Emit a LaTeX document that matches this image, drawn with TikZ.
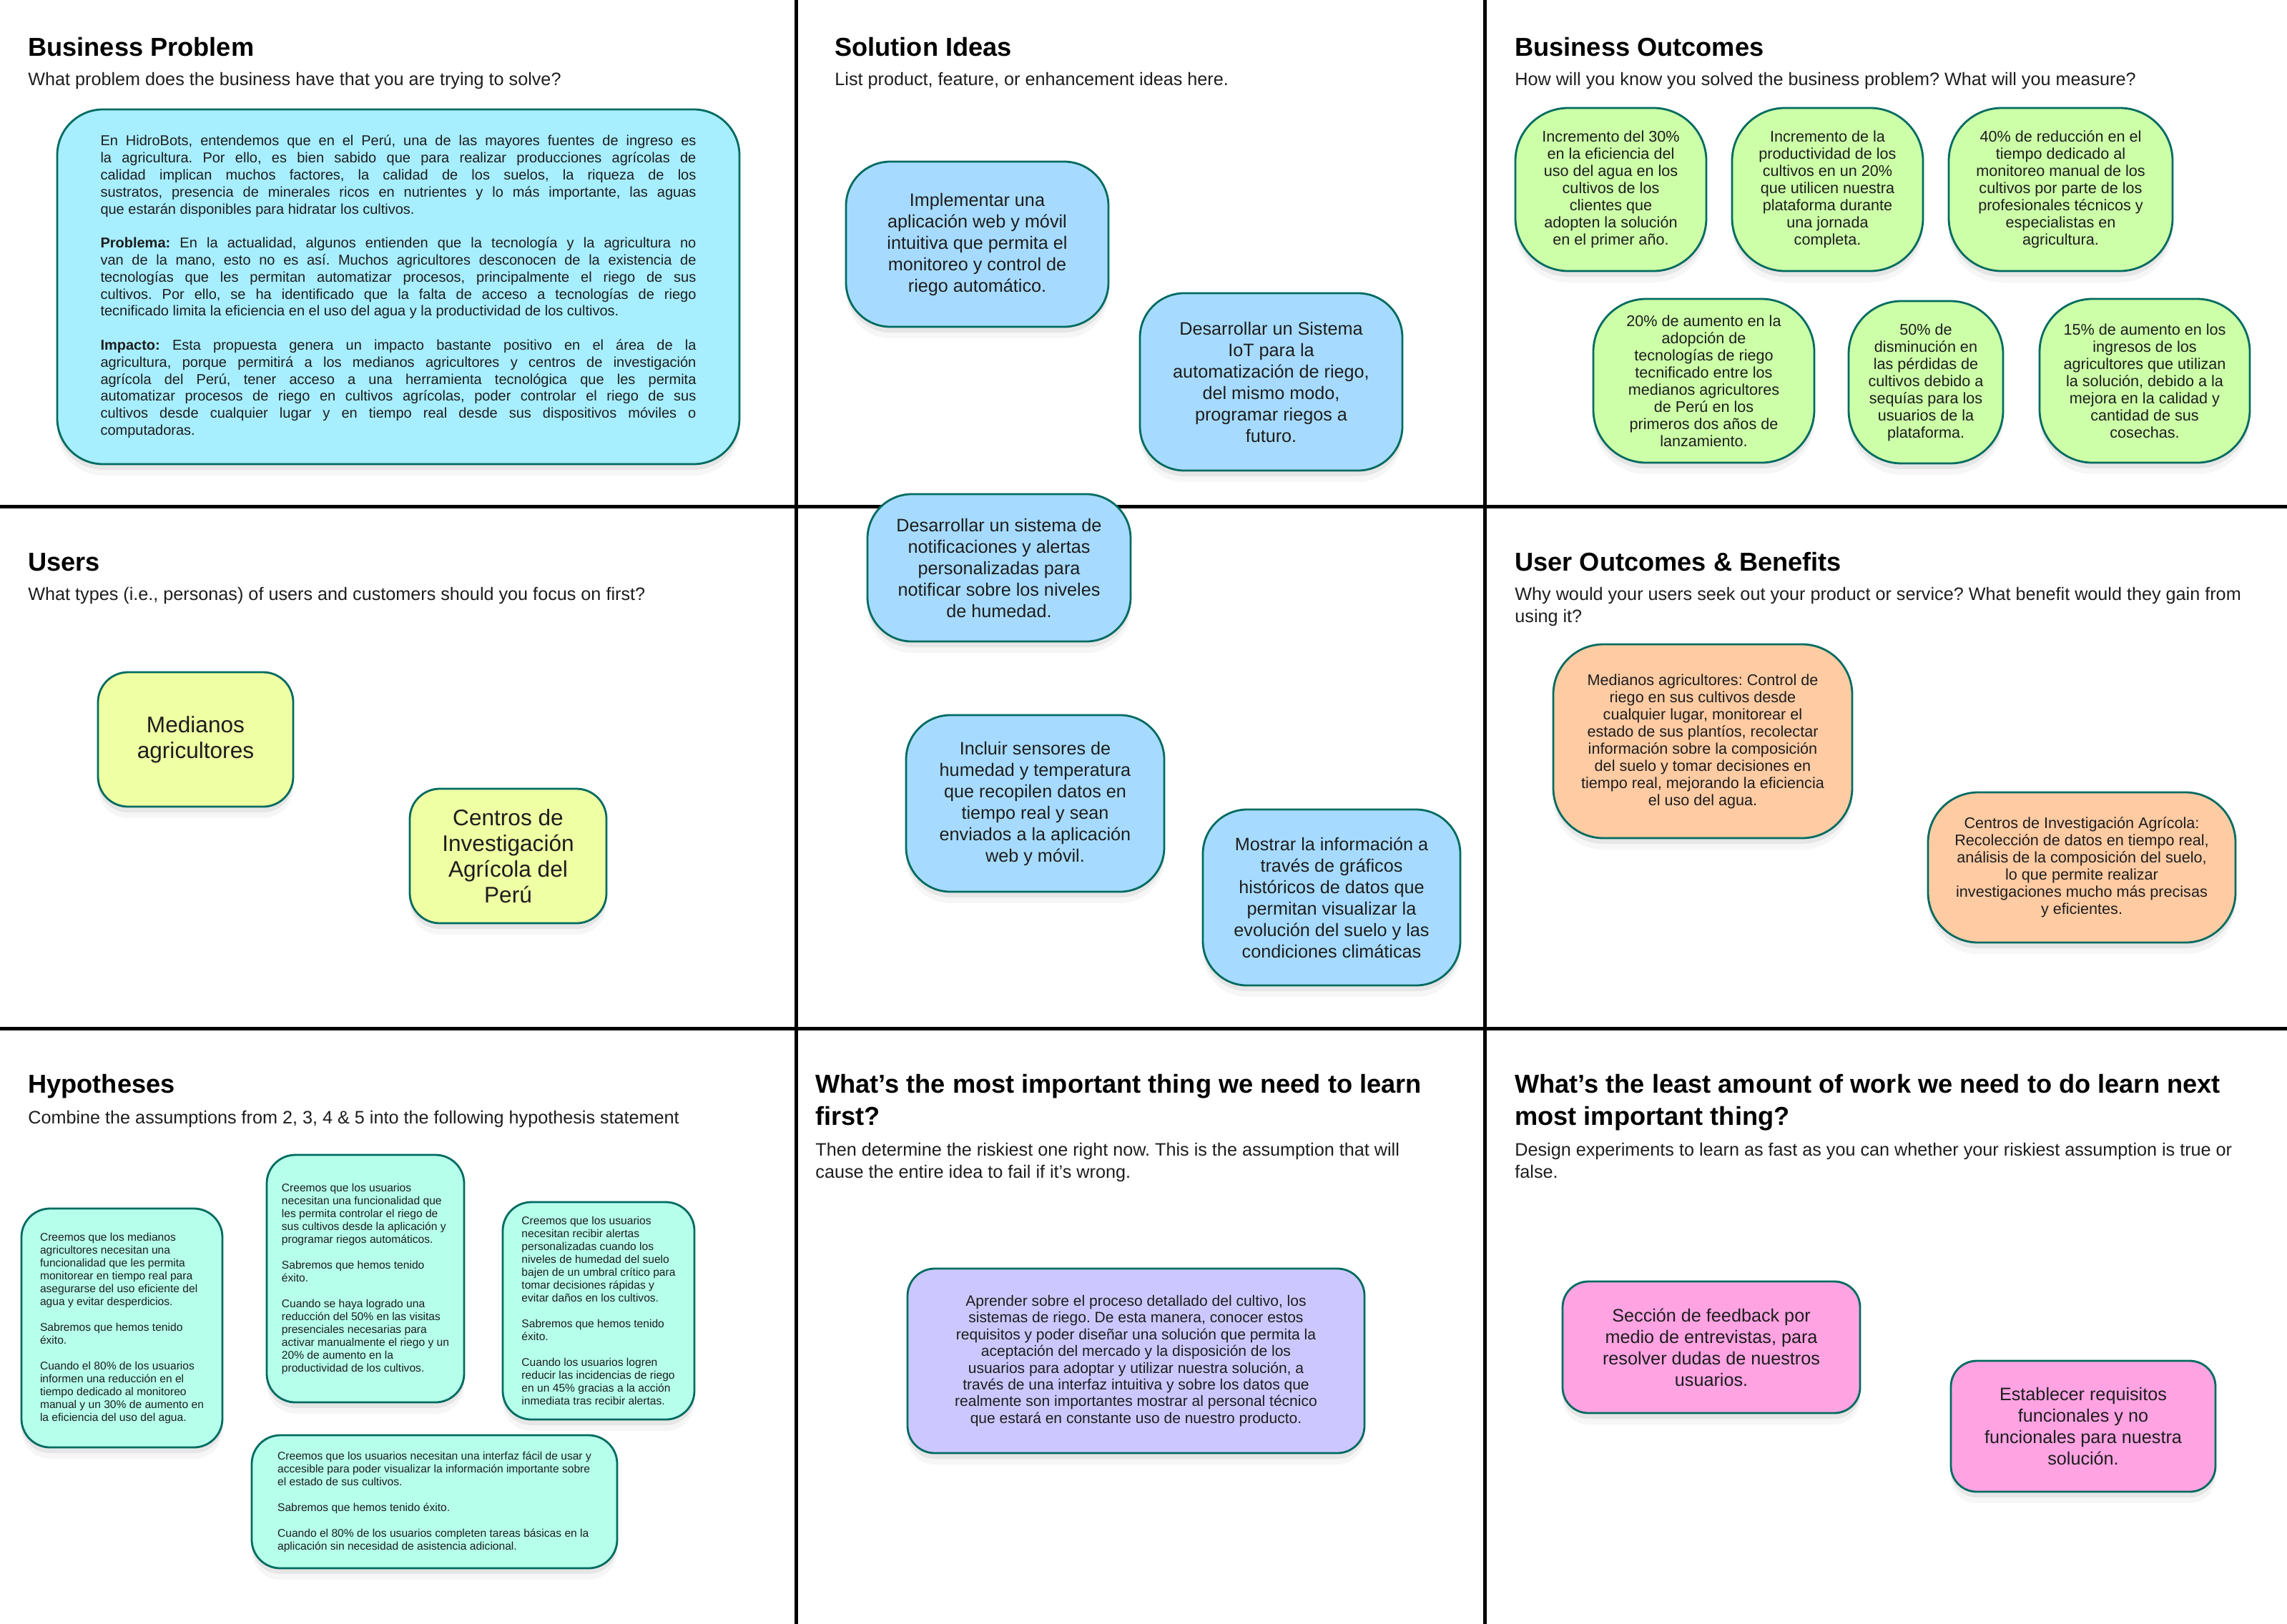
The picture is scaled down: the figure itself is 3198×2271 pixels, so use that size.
\documentclass[tikz,border=0pt]{standalone}
\usepackage{fontspec}
\setmainfont{Liberation Sans}
\usepackage{tikz}
\usetikzlibrary{shadows}
\usepackage{xcolor}
\frenchspacing

\definecolor{edge}{HTML}{006B60}
\definecolor{ink}{HTML}{1D1D1D}
\definecolor{bpfill}{HTML}{A7EEFF}
\definecolor{ideafill}{HTML}{A6DBFF}
\definecolor{outfill}{HTML}{CCFFA8}
\definecolor{userfill}{HTML}{EFFFA3}
\definecolor{benfill}{HTML}{FFCBA3}
\definecolor{hypfill}{HTML}{B5FFEB}
\definecolor{learnfill}{HTML}{CCC8FF}
\definecolor{workfill}{HTML}{FFA3E3}

\begin{document}
\begin{tikzpicture}[x=0.5pt, y=-0.5pt,
    grid/.style={line width=2.5pt, black},
    head/.style={anchor=base west, inner sep=0pt, align=left, font=\fontsize{18.1}{22.5}\selectfont\bfseries},
    sub/.style={anchor=base west, inner sep=0pt, align=left, text=ink, font=\fontsize{12.6}{15.5}\selectfont},
    card/.style={draw=edge, line width=1.4pt, inner sep=0pt, align=center, text=ink,
      drop shadow={shadow xshift=0pt, shadow yshift=-8pt, opacity=0.07},
      drop shadow={shadow xshift=0pt, shadow yshift=-4pt, opacity=0.14}}]

  \useasboundingbox (0,0) rectangle (3198,2271);

  % grid of the canvas
  \draw[grid] (1113,0) -- (1113,2271);
  \draw[grid] (2076,0) -- (2076,2271);
  \draw[grid] (0,708) -- (3198,708);
  \draw[grid] (0,1438) -- (3198,1438);

  % headings (multi-line ones sit on the baseline of their last line)
  \node[head] (hbp) at (39,78) {Business Problem};
  \node[sub] (sbp) at (39,119) {What problem does the business have that you are trying to solve?};
  \node[head] (hsi) at (1167,78) {Solution Ideas};
  \node[sub] (ssi) at (1167,119) {List product, feature, or enhancement ideas here.};
  \node[head] (hbo) at (2118,78) {Business Outcomes};
  \node[sub] (sbo) at (2118,119) {How will you know you solved the business problem? What will you measure?};

  \node[head] (hus) at (39,798) {Users};
  \node[sub] (sus) at (39,839) {What types (i.e., personas) of users and customers should you focus on first?};
  \node[head] (huo) at (2118,798) {User Outcomes \& Benefits};
  \node[sub] (suo) at (2118,870) {Why would your users seek out your product or service? What benefit would they gain from\\using it?};

  \node[head] (hhy) at (39,1528) {Hypotheses};
  \node[sub] (shy) at (39,1571) {Combine the assumptions from 2, 3, 4 \& 5 into the following hypothesis statement};
  \node[head] (hle) at (1140,1573) {What’s the most important thing we need to learn\\first?};
  \node[sub] (sle) at (1140,1647) {Then determine the riskiest one right now. This is the assumption that will\\cause the entire idea to fail if it’s wrong.};
  \node[head] (hwo) at (2118,1573) {What’s the least amount of work we need to do learn next\\most important thing?};
  \node[sub] (swo) at (2118,1647) {Design experiments to learn as fast as you can whether your riskiest assumption is true or\\false.};

  % business problem
  \node[card, fill=bpfill, rounded corners=32pt, minimum width=477pt, minimum height=248pt,
    text width=416.5pt, align=justify, font=\fontsize{10}{11.9}\selectfont] (bp) at (557,401) {%
    En HidroBots, entendemos que en el Perú, una de las mayores fuentes de ingreso es\linebreak
    la agricultura. Por ello, es bien sabido que para realizar producciones agrícolas de\linebreak
    calidad implican muchos factores, la calidad de los suelos, la riqueza de los\linebreak
    sustratos, presencia de minerales ricos en nutrientes y lo más importante, las aguas\linebreak
    que estarán disponibles para hidratar los cultivos.\par\vspace{11.9pt}
    \textbf{Problema:} En la actualidad, algunos entienden que la tecnología y la agricultura no\linebreak
    van de la mano, esto no es así. Muchos agricultores desconocen de la existencia de\linebreak
    tecnologías que les permitan automatizar procesos, principalmente el riego de sus\linebreak
    cultivos. Por ello, se ha identificado que la falta de acceso a tecnologías de riego\linebreak
    tecnificado limita la eficiencia en el uso del agua y la productividad de los cultivos.\par\vspace{11.9pt}
    \textbf{Impacto:} Esta propuesta genera un impacto bastante positivo en el área de la\linebreak
    agricultura, porque permitirá a los medianos agricultores y centros de investigación\linebreak
    agrícola del Perú, tener acceso a una herramienta tecnológica que les permita\linebreak
    automatizar procesos de riego en cultivos agrícolas, poder controlar el riego de sus\linebreak
    cultivos desde cualquier lugar y en tiempo real desde sus dispositivos móviles o\linebreak
    computadoras.};

  % solution ideas
  \node[card, fill=ideafill, rounded corners=31pt, minimum width=183.5pt, minimum height=115.5pt,
    font=\fontsize{12.6}{15}\selectfont] (idea1) at (1366.5,341.5)
    {Implementar una\\aplicación web y móvil\\intuitiva que permita el\\monitoreo y control de\\riego automático.};
  \node[card, fill=ideafill, rounded corners=31pt, minimum width=183.5pt, minimum height=124pt,
    font=\fontsize{12.6}{15}\selectfont] (idea2) at (1777.5,534)
    {Desarrollar un Sistema\\IoT para la\\automatización de riego,\\del mismo modo,\\programar riegos a\\futuro.};
  \node[card, fill=ideafill, rounded corners=31pt, minimum width=184pt, minimum height=103pt,
    font=\fontsize{12.6}{15}\selectfont] (idea3) at (1397,794)
    {Desarrollar un sistema de\\notificaciones y alertas\\personalizadas para\\notificar sobre los niveles\\de humedad.};
  \node[card, fill=ideafill, rounded corners=31pt, minimum width=180.5pt, minimum height=123.5pt,
    font=\fontsize{12.6}{15}\selectfont] (idea4) at (1447.5,1123.5)
    {Incluir sensores de\\humedad y temperatura\\que recopilen datos en\\tiempo real y sean\\enviados a la aplicación\\web y móvil.};
  \node[card, fill=ideafill, rounded corners=31pt, minimum width=180pt, minimum height=123pt,
    font=\fontsize{12.6}{15}\selectfont] (idea5) at (1862,1255)
    {Mostrar la información a\\través de gráficos\\históricos de datos que\\permitan visualizar la\\evolución del suelo y las\\condiciones climáticas};

  % business outcomes
  \node[card, fill=outfill, rounded corners=37pt, minimum width=133.5pt, minimum height=114pt,
    font=\fontsize{10.8}{12}\selectfont] (out1) at (2252.5,265)
    {Incremento del 30\%\\en la eficiencia del\\uso del agua en los\\cultivos de los\\clientes que\\adopten la solución\\en el primer año.};
  \node[card, fill=outfill, rounded corners=37pt, minimum width=133.5pt, minimum height=114pt,
    font=\fontsize{10.8}{12}\selectfont] (out2) at (2555.5,265)
    {Incremento de la\\productividad de los\\cultivos en un 20\%\\que utilicen nuestra\\plataforma durante\\una jornada\\completa.};
  \node[card, fill=outfill, rounded corners=37pt, minimum width=156.5pt, minimum height=114pt,
    font=\fontsize{10.8}{12}\selectfont] (out3) at (2881.5,265)
    {40\% de reducción en el\\tiempo dedicado al\\monitoreo manual de los\\cultivos por parte de los\\profesionales técnicos y\\especialistas en\\agricultura.};
  \node[card, fill=outfill, rounded corners=37pt, minimum width=154.5pt, minimum height=114.5pt,
    font=\fontsize{10.8}{12}\selectfont] (out4) at (2382.5,532.5)
    {20\% de aumento en la\\adopción de\\tecnologías de riego\\tecnificado entre los\\medianos agricultores\\de Perú en los\\primeros dos años de\\lanzamiento.};
  \node[card, fill=outfill, rounded corners=37pt, minimum width=108pt, minimum height=113.5pt,
    font=\fontsize{10.8}{12}\selectfont] (out5) at (2693,534.5)
    {50\% de\\disminución en\\las pérdidas de\\cultivos debido a\\sequías para los\\usuarios de la\\plataforma.};
  \node[card, fill=outfill, rounded corners=37pt, minimum width=147pt, minimum height=114.5pt,
    font=\fontsize{10.8}{12}\selectfont] (out6) at (2999,532.5)
    {15\% de aumento en los\\ingresos de los\\agricultores que utilizan\\la solución, debido a la\\mejora en la calidad y\\cantidad de sus\\cosechas.};

  % users
  \node[card, fill=userfill, rounded corners=21pt, minimum width=136.5pt, minimum height=94pt,
    font=\fontsize{15.8}{18}\selectfont] (user1) at (273.5,1034) {Medianos\\agricultores};
  \node[card, fill=userfill, rounded corners=21pt, minimum width=137.5pt, minimum height=94pt,
    font=\fontsize{15.8}{18}\selectfont] (user2) at (710.5,1197) {Centros de\\Investigación\\Agrícola del\\Perú};

  % user outcomes
  \node[card, fill=benfill, rounded corners=35pt, minimum width=209pt, minimum height=135.5pt,
    font=\fontsize{10.8}{12}\selectfont] (ben1) at (2381,1036.5)
    {Medianos agricultores: Control de\\riego en sus cultivos desde\\cualquier lugar, monitorear el\\estado de sus plantíos, recolectar\\información sobre la composición\\del suelo y tomar decisiones en\\tiempo real, mejorando la eficiencia\\el uso del agua.};
  \node[card, fill=benfill, rounded corners=35pt, minimum width=215pt, minimum height=105pt,
    font=\fontsize{10.8}{12}\selectfont] (ben2) at (2911,1213)
    {Centros de Investigación Agrícola:\\Recolección de datos en tiempo real,\\análisis de la composición del suelo,\\lo que permite realizar\\investigaciones mucho más precisas\\y eficientes.};

  % hypotheses
  \node[card, fill=hypfill, rounded corners=20pt, minimum width=140.5pt, minimum height=167pt,
    align=left, font=\fontsize{7.8}{9}\selectfont] (hyp1) at (170.5,1857)
    {Creemos que los medianos\\agricultores necesitan una\\funcionalidad que les permita\\monitorear en tiempo real para\\asegurarse del uso eficiente del\\agua y evitar desperdicios.\\[9pt]
     Sabremos que hemos tenido\\éxito.\\[9pt]
     Cuando el 80\% de los usuarios\\informen una reducción en el\\tiempo dedicado al monitoreo\\manual y un 30\% de aumento en\\la eficiencia del uso del agua.};
  \node[card, fill=hypfill, rounded corners=20pt, minimum width=138pt, minimum height=173pt,
    align=left, font=\fontsize{7.8}{9}\selectfont] (hyp2) at (511,1788)
    {Creemos que los usuarios\\necesitan una funcionalidad que\\les permita controlar el riego de\\sus cultivos desde la aplicación y\\programar riegos automáticos.\\[9pt]
     Sabremos que hemos tenido\\éxito.\\[9pt]
     Cuando se haya logrado una\\reducción del 50\% en las visitas\\presenciales necesarias para\\activar manualmente el riego y un\\20\% de aumento en la\\productividad de los cultivos.};
  \node[card, fill=hypfill, rounded corners=20pt, minimum width=134pt, minimum height=152pt,
    align=left, font=\fontsize{7.8}{9}\selectfont] (hyp3) at (837,1833)
    {Creemos que los usuarios\\necesitan recibir alertas\\personalizadas cuando los\\niveles de humedad del suelo\\bajen de un umbral crítico para\\tomar decisiones rápidas y\\evitar daños en los cultivos.\\[9pt]
     Sabremos que hemos tenido\\éxito.\\[9pt]
     Cuando los usuarios logren\\reducir las incidencias de riego\\en un 45\% gracias a la acción\\inmediata tras recibir alertas.};
  \node[card, fill=hypfill, rounded corners=20pt, minimum width=255.5pt, minimum height=93pt,
    align=left, font=\fontsize{7.8}{9}\selectfont] (hyp4) at (607.5,2100)
    {Creemos que los usuarios necesitan una interfaz fácil de usar y\\accesible para poder visualizar la información importante sobre\\el estado de sus cultivos.\\[9pt]
     Sabremos que hemos tenido éxito.\\[9pt]
     Cuando el 80\% de los usuarios completen tareas básicas en la\\aplicación sin necesidad de asistencia adicional.};

  % riskiest assumption
  \node[card, fill=learnfill, rounded corners=19pt, minimum width=319.5pt, minimum height=129pt,
    font=\fontsize{10.5}{11.7}\selectfont] (learn) at (1588.5,1903)
    {Aprender sobre el proceso detallado del cultivo, los\\sistemas de riego. De esta manera, conocer estos\\requisitos y poder diseñar una solución que permita la\\aceptación del mercado y la disposición de los\\usuarios para adoptar y utilizar nuestra solución, a\\través de una interfaz intuitiva y sobre los datos que\\realmente son importantes mostrar al personal técnico\\que estará en constante uso de nuestro producto.};

  % experiments
  \node[card, fill=workfill, rounded corners=18pt, minimum width=208pt, minimum height=92pt,
    font=\fontsize{12.6}{15}\selectfont] (work1) at (2393,1884)
    {Sección de feedback por\\medio de entrevistas, para\\resolver dudas de nuestros\\usuarios.};
  \node[card, fill=workfill, rounded corners=18pt, minimum width=185pt, minimum height=91.5pt,
    font=\fontsize{12.6}{15}\selectfont] (work2) at (2913,1994.5)
    {Establecer requisitos\\funcionales y no\\funcionales para nuestra\\solución.};

\end{tikzpicture}
\end{document}
